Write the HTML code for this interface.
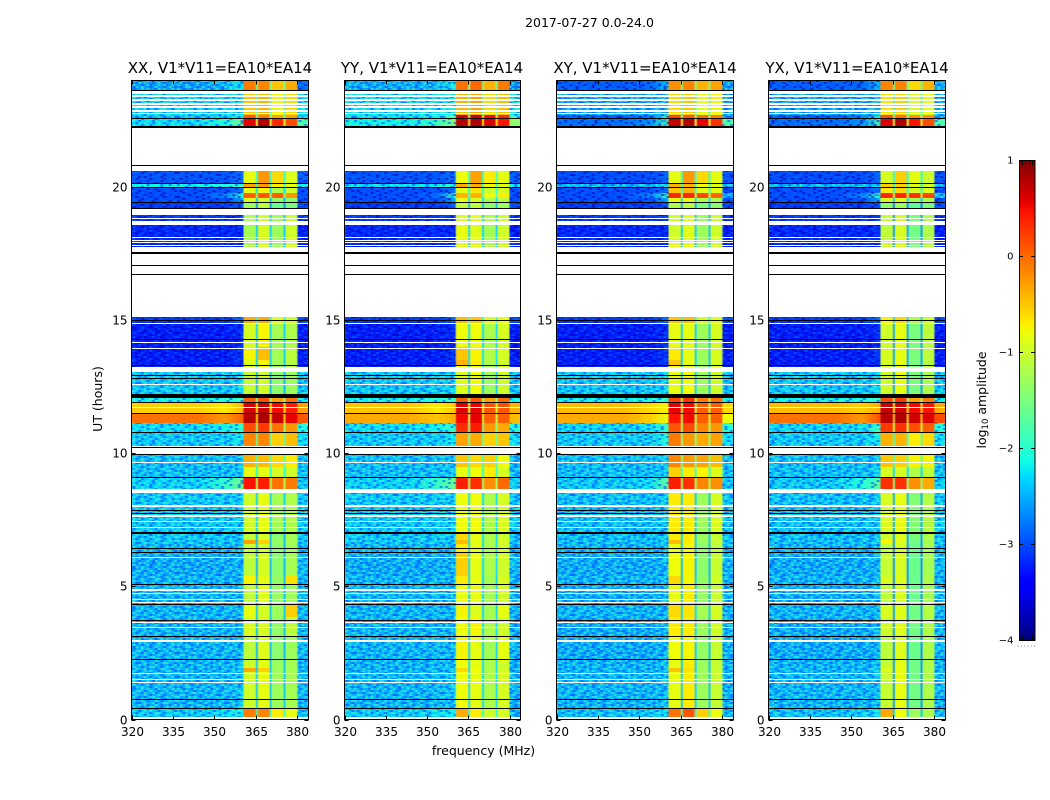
<!DOCTYPE html>
<html>
<head>
<meta charset="utf-8">
<title>2017-07-27 dynamic spectra</title>
<style>
html,body{margin:0;padding:0;background:#fff;}
svg{display:block;}
text{font-family:"DejaVu Sans","Liberation Sans",sans-serif;fill:#000;}
</style>
</head>
<body>
<svg id="chart" xmlns="http://www.w3.org/2000/svg" width="1050" height="800" viewBox="0 0 1050 800">
  <defs id="defs">
    <filter id="soften" x="0" y="0" width="100%" height="100%" color-interpolation-filters="sRGB"><feGaussianBlur stdDeviation="0.4 0.3"/></filter>
  </defs>
  <text x="589.5" y="27" text-anchor="middle" font-size="12.5">2017-07-27 0.0-24.0</text>
  <text x="220" y="73" text-anchor="middle" font-size="15">XX, V1*V11=EA10*EA14</text>
  <text x="432" y="73" text-anchor="middle" font-size="15">YY, V1*V11=EA10*EA14</text>
  <text x="645" y="73" text-anchor="middle" font-size="15">XY, V1*V11=EA10*EA14</text>
  <text x="857" y="73" text-anchor="middle" font-size="15">YX, V1*V11=EA10*EA14</text>
  <text x="483.5" y="755" text-anchor="middle" font-size="12.5">frequency (MHz)</text>
  <text transform="translate(102,399) rotate(-90)" text-anchor="middle" font-size="12.5">UT (hours)</text>
  <text transform="translate(986,400) rotate(-90)" text-anchor="middle" font-size="12.5">log<tspan font-size="8.5" dy="2">10</tspan><tspan dy="-2"> amplitude</tspan></text>
</svg>
<script>
// ---- axis data ----
const xTicks = [320, 335, 350, 365, 380];
const yTicks = [0, 5, 10, 15, 20];
const colorbarTicks = [1, 0, -1, -2, -3, -4];
const colorbarLabels = ['1', '0', '\u22121', '\u22122', '\u22123', '\u22124'];
const panelNames = ['xx', 'yy', 'xy', 'yx'];

// frequency segment edges (MHz)
const freqEdges = [320, 360.5, 365, 365.7, 370, 370.7, 375, 375.7, 380, 384];
// time band edges (hours UT)
const timeEdges = [0, .45, 1.8, 1.95, 2.2, 3.1, 3.85, 4.3, 5.07, 5.4, 6.27, 6.6, 6.75, 7, 8.5, 8.67, 9.1, 9.5, 9.95, 10.2, 10.8, 11.13, 11.5, 11.9, 12.2, 13.05, 13.33, 13.5, 14, 14.9, 15.15, 17.9, 18.56, 18.95, 19.19, 19.44, 19.57, 19.77, 20, 20.14, 20.6, 22.21, 22.6, 22.72, 23.6, 24];

// log10 amplitude per time band: [320-345, 345-355, 355-360, band1, band2, band3, band4, 380-384]
const xxLevels = [
[-2.4,-2.3,-2.2,-.1,-.15,-.7,-.85,-2.5],[-2.5,-2.5,-2.4,-1,-.85,-1.3,-1.25,-2.5],[-2.5,-2.5,-2.4,-.35,-.55,-1.3,-1.25,-2.5],[-2.5,-2.5,-2.4,-1,-.85,-1.3,-1.25,-2.5],
[-2.5,-2.5,-2.5,-1.1,-.9,-1.4,-1.3,-2.5],[-2.5,-2.5,-2.5,-.95,-.95,-1.35,-1.1,-2.5],[-2.5,-2.5,-2.5,-.85,-.95,-1.3,-.55,-2.5],[-2.5,-2.5,-2.5,-1.1,-.9,-1.35,-1.3,-2.5],
[-2.5,-2.5,-2.5,-.75,-.85,-1.35,-.65,-2.5],[-2.55,-2.55,-2.5,-1.1,-.95,-1.4,-1.25,-2.5],[-2.5,-2.5,-2.5,-1.05,-1,-1.4,-1.3,-2.5],[-2.4,-2.4,-2.4,-.3,-.55,-1.35,-1.25,-2.4],
[-2.4,-2.4,-2.4,-1.1,-.95,-1.4,-1.25,-2.4],[-2.4,-2.4,-2.35,-1,-.85,-1.25,-1.2,-2.4],[-2.4,-2.4,-2.4,-1,-.85,-1.25,-1.2,-2.4],[-2.35,-2,-1.5,.45,.4,-.05,-.1,-2.4],
[-2.45,-2.45,-2.4,-.85,-.85,-.95,-1,-2.45],[-2.45,-2.45,-2.4,-.4,-.45,-.6,-.7,-2.45],[-2.45,-2.45,-2.4,-.9,-.9,-1,-1,-2.45],[-2.4,-2.4,-2.2,-.15,-.15,-.55,-.45,-2.3],
[-2.3,-2.2,-2,.15,.25,-.05,-.25,-2.1],[-.05,-.25,.05,.75,.8,.7,.55,.1],[-.55,-.7,-.4,.65,.7,.5,.4,-.3],[-2.2,-2.1,-1.9,.05,.15,-.3,-.05,-2.2],
[-2.4,-2.4,-2.3,-1.05,-1,-1.4,-1.3,-2.4],[-3.2,-3.2,-3.1,-1,-.9,-1.3,-1.2,-3.2],[-3.25,-3.25,-3.1,-.9,-.75,-1.3,-1.15,-3.25],[-3.25,-3.25,-3.1,-.75,-.45,-1.25,-1.1,-3.25],
[-3.25,-3.25,-3.15,-.95,-.75,-1.25,-1.2,-3.25],[-3.1,-3.1,-2.8,-.35,-.35,-.9,-1,-3],[-3.2,-3.2,-3.2,-1.2,-1,-1.3,-1,-3.2],[-3.2,-3.2,-3.2,-1.25,-.95,-1.3,-1,-3.25],
[-3.1,-3.1,-3.1,-1.2,-1,-1.25,-1,-3.1],[-3.1,-3.1,-3.1,-1.2,-1,-1.25,-1,-3.1],[-3.1,-3.1,-2.9,-1.3,-1.1,-1.6,-1.5,-3],[-3,-3,-2.5,-.95,-1,-1.35,-1.4,-3],
[-3,-2.7,-2,.05,.1,.05,-.25,-3],[-3,-3,-2.8,-.85,-.75,-1.2,-1,-3],[-2.2,-2.1,-2,-.3,-.25,-.7,-.85,-2.2],[-2.95,-2.95,-2.8,-.85,-.25,-.6,-.9,-2.9],
[-3,-3,-3,-1,-1,-1,-1,-3],[-2.3,-2.1,-1.5,.55,.8,.35,.15,-1.8],[-2.45,-2.4,-2.1,.1,-.1,-.3,-.3,-2.5],[-2.35,-2.35,-2.3,-.5,-.4,-.75,-.6,-2.3],[-2.6,-2.5,-2.2,-.1,-.15,-.5,-.35,-2.8]];

const yyLevels = [
[-2.4,-2.3,-2.2,-.35,-.7,-1,-.95,-2.5],[-2.5,-2.5,-2.4,-.8,-.85,-1.2,-.95,-2.5],[-2.5,-2.5,-2.4,-.6,-.8,-1.2,-1,-2.5],[-2.5,-2.5,-2.4,-.8,-.85,-1.2,-1,-2.5],
[-2.5,-2.5,-2.5,-.75,-.85,-1.25,-.85,-2.5],[-2.5,-2.5,-2.5,-.8,-.75,-1.2,-1,-2.5],[-2.5,-2.5,-2.5,-.75,-.9,-1.25,-.85,-2.5],[-2.5,-2.5,-2.5,-.85,-.85,-1.25,-1,-2.5],
[-2.5,-2.5,-2.5,-.7,-.85,-1.25,-.95,-2.5],[-2.55,-2.55,-2.5,-.55,-.85,-1.2,-1,-2.5],[-2.5,-2.5,-2.5,-.7,-.85,-1.2,-1,-2.5],[-2.4,-2.4,-2.4,-.45,-.85,-1.2,-.95,-2.4],
[-2.4,-2.4,-2.4,-.6,-.85,-1.2,-1,-2.4],[-2.4,-2.4,-2.35,-.8,-.8,-1.2,-.95,-2.4],[-2.4,-2.4,-2.4,-.8,-.8,-1.2,-.95,-2.4],[-2.35,-2,-1.5,.4,.3,-.2,0,-2.4],
[-2.45,-2.45,-2.4,-.85,-.8,-.7,-.95,-2.45],[-2.45,-2.45,-2.4,-.5,-.6,-.55,-.8,-2.45],[-2.45,-2.45,-2.4,-.8,-.8,-.8,-.9,-2.45],[-2.4,-2.4,-2.2,-.3,-.35,-.55,-.5,-2.3],
[-2.3,-2.2,-2,.3,.4,-.25,-.35,-2.1],[-.35,-.5,-.35,.5,.55,.05,.05,-.45],[-.5,-.7,-.5,.6,.55,.1,.1,-.4],[-2.2,-2.1,-1.9,.05,.1,-.3,0,-2.2],
[-2.4,-2.4,-2.3,-.9,-.8,-1.3,-1,-2.4],[-3.2,-3.2,-3.1,-.8,-.9,-1.3,-1,-3.2],[-3.25,-3.25,-3.1,-.4,-.7,-1.2,-1,-3.25],[-3.25,-3.25,-3.1,-.5,-.75,-1.15,-.95,-3.25],
[-3.25,-3.25,-3.15,-.8,-.8,-1.2,-.95,-3.25],[-3.1,-3.1,-2.8,-.45,-.5,-.9,-.85,-3],[-3.2,-3.2,-3.2,-.9,-.9,-1.2,-1,-3.2],[-3.2,-3.2,-3.2,-.85,-.9,-1.25,-1,-3.25],
[-3.1,-3.1,-3.1,-.9,-.85,-1.2,-1,-3.1],[-3.1,-3.1,-3.1,-.9,-.85,-1.2,-1,-3.1],[-3.1,-3.1,-2.9,-1.1,-1.1,-1.4,-1.3,-3],[-3,-3,-2.5,-.85,-.95,-1.2,-1.15,-3],
[-3,-2.8,-1.9,-.4,-.4,-.8,-.7,-3],[-3,-3,-2.8,-.85,-.65,-1,-.95,-3],[-2.3,-2.2,-2,-.35,-.35,-.75,-.9,-2.2],[-2.95,-2.95,-2.8,-.8,-.3,-.7,-.85,-2.9],
[-3,-3,-3,-1,-1,-1,-1,-3],[-2.2,-1.9,-1.3,.75,.8,.6,.45,-1.4],[-2.3,-2.2,-1.6,.65,.7,.5,.35,-2],[-2.3,-2.3,-2.2,-.4,-.3,-.6,-.45,-2.3],[-2.55,-2.5,-2.2,-.05,0,-.4,-.1,-2.75]];

const xyLevels = [
[-2.45,-2.4,-2.3,-.05,.1,-.55,-.8,-2.5],[-2.5,-2.5,-2.45,-.85,-.7,-1.3,-1.05,-2.5],[-2.5,-2.5,-2.45,-.5,-.65,-1.3,-1.05,-2.5],[-2.5,-2.5,-2.45,-.85,-.7,-1.3,-1.05,-2.5],
[-2.55,-2.55,-2.5,-.8,-.75,-1.35,-1.05,-2.5],[-2.55,-2.55,-2.5,-.7,-.7,-1.3,-1,-2.5],[-2.5,-2.5,-2.5,-.6,-.65,-1.25,-.95,-2.5],[-2.55,-2.55,-2.5,-.85,-.7,-1.35,-1.05,-2.5],
[-2.5,-2.5,-2.5,-.6,-.75,-1.35,-1,-2.5],[-2.55,-2.55,-2.5,-.8,-.75,-1.4,-1.05,-2.5],[-2.5,-2.5,-2.5,-.85,-.75,-1.4,-1.1,-2.5],[-2.45,-2.45,-2.4,-.45,-.7,-1.3,-1.05,-2.4],
[-2.45,-2.45,-2.4,-.7,-.7,-1.3,-1.05,-2.4],[-2.45,-2.45,-2.4,-.7,-.7,-1.3,-.95,-2.4],[-2.45,-2.45,-2.4,-.7,-.7,-1.3,-.95,-2.4],[-2.4,-2.3,-1.6,.4,.3,-.15,-.2,-2.4],
[-2.45,-2.45,-2.4,-.55,-.7,-.75,-.9,-2.45],[-2.45,-2.45,-2.4,-.15,-.25,-.3,-.45,-2.45],[-2.45,-2.45,-2.4,-.5,-.6,-.8,-.8,-2.45],[-2.4,-2.4,-2.1,-.1,-.25,-.35,-.3,-2.3],
[-2.35,-2.3,-1.9,.1,.15,-.15,-.25,-2.1],[-.35,-.55,-.85,.45,.5,.05,.05,-.8],[-.45,-.6,-.75,.55,.5,.05,.05,-.6],[-2.2,-2.15,-2,.2,.3,-.1,-.05,-2.2],
[-2.4,-2.4,-2.35,-.85,-.8,-1.3,-1,-2.4],[-3.2,-3.2,-3.1,-.8,-.85,-1.35,-1,-3.2],[-3.25,-3.25,-3.1,-.5,-.85,-1.3,-.95,-3.25],[-3.25,-3.25,-3.1,-.7,-.85,-1.3,-.95,-3.25],
[-3.25,-3.25,-3.15,-.85,-.85,-1.3,-.95,-3.25],[-3.1,-3.1,-2.8,-.5,-.45,-.95,-.9,-3],[-3.2,-3.2,-3.2,-.9,-.9,-1.3,-1,-3.2],[-3.2,-3.2,-3.2,-1,-.9,-1.3,-1,-3.25],
[-3.1,-3.1,-3.1,-1,-.9,-1.3,-1,-3.1],[-3.1,-3.1,-3.1,-1,-.9,-1.3,-1,-3.1],[-3.1,-3.1,-2.95,-1.2,-1.1,-1.5,-1.4,-3],[-3,-3,-2.4,-.85,-.85,-1.2,-1.2,-3],
[-3,-2.7,-1.9,.35,.35,.2,0,-2.6],[-3,-3,-2.8,-.5,-.4,-.85,-.85,-3],[-2.5,-2.5,-2.3,-.4,-.4,-.8,-.85,-2.5],[-3,-3,-2.85,-.85,-.25,-.6,-.85,-2.95],
[-3,-3,-3,-1,-1,-1,-1,-3],[-2.8,-2.6,-1.8,.7,.75,.55,.3,-1.8],[-2.9,-2.7,-1.9,.2,.1,0,-.1,-2.7],[-2.6,-2.6,-2.5,-.6,-.5,-.85,-.75,-2.6],[-2.9,-2.85,-2.4,-.2,-.15,-.4,-.3,-2.6]];

const yxLevels = [
[-2.45,-2.4,-2.3,-.35,-.8,-1.3,-1.2,-2.5],[-2.5,-2.5,-2.45,-1.05,-.85,-1.55,-1.2,-2.5],[-2.5,-2.5,-2.45,-.9,-.85,-1.55,-1.2,-2.5],[-2.5,-2.5,-2.45,-1.05,-.85,-1.55,-1.2,-2.5],
[-2.55,-2.55,-2.5,-1.1,-.9,-1.6,-1.2,-2.5],[-2.55,-2.55,-2.5,-1,-.9,-1.55,-1.2,-2.5],[-2.5,-2.5,-2.5,-.95,-.9,-1.55,-1.15,-2.5],[-2.55,-2.55,-2.5,-1.1,-.95,-1.6,-1.25,-2.5],
[-2.5,-2.5,-2.5,-.95,-.9,-1.6,-1.2,-2.5],[-2.55,-2.55,-2.5,-1.05,-.95,-1.6,-1.25,-2.5],[-2.5,-2.5,-2.5,-1.1,-.95,-1.6,-1.25,-2.5],[-2.45,-2.45,-2.4,-.75,-.9,-1.55,-1.25,-2.4],
[-2.45,-2.45,-2.4,-1,-.9,-1.5,-1.2,-2.4],[-2.45,-2.45,-2.4,-.95,-.85,-1.45,-1.15,-2.4],[-2.45,-2.45,-2.4,-.95,-.85,-1.45,-1.15,-2.4],[-2.4,-2.1,-1.7,.3,.3,-.2,-.35,-2.4],
[-2.45,-2.45,-2.4,-.95,-.95,-1.2,-1.1,-2.45],[-2.45,-2.45,-2.4,-.5,-.55,-.75,-.75,-2.45],[-2.45,-2.45,-2.4,-.85,-.9,-1.2,-1.05,-2.45],[-2.4,-2.4,-2.2,-.4,-.4,-.7,-.6,-2.3],
[-2.35,-2.3,-1.9,.25,.3,.15,.05,-2.1],[-.05,-.25,.15,.75,.8,.65,.6,.15],[-.45,-.55,-.35,.7,.65,.5,.45,-.35],[-2.2,-2.15,-2,.15,.25,-.3,-.1,-2.2],
[-2.4,-2.4,-2.35,-1,-.85,-1.5,-1.2,-2.4],[-3.2,-3.2,-3.1,-1,-.85,-1.45,-1.1,-3.2],[-3.25,-3.25,-3.1,-.95,-.85,-1.5,-1.15,-3.25],[-3.25,-3.25,-3.1,-.95,-.85,-1.5,-1.1,-3.25],
[-3.25,-3.25,-3.15,-1,-.85,-1.5,-1.1,-3.25],[-3.1,-3.1,-2.8,-.75,-.6,-1.2,-1,-3],[-3.2,-3.2,-3.2,-1.05,-.95,-1.5,-1.15,-3.2],[-3.2,-3.2,-3.2,-1.1,-.95,-1.55,-1.2,-3.25],
[-3.1,-3.1,-3.1,-1.05,-.95,-1.5,-1.15,-3.1],[-3.1,-3.1,-3.1,-1.05,-.95,-1.5,-1.15,-3.1],[-3.1,-3.1,-2.95,-1.4,-1.3,-1.7,-1.5,-3],[-3,-3,-2.4,-.95,-.9,-1.3,-1.2,-3],
[-3,-2.7,-1.9,.35,.35,.3,.2,-2.5],[-3,-3,-2.8,-.7,-.6,-.95,-.9,-3],[-2.5,-2.5,-2.3,-.55,-.55,-.9,-.95,-2.5],[-3,-3,-2.85,-.95,-.55,-.85,-1,-2.95],
[-3,-3,-3,-1,-1,-1,-1,-3],[-2.8,-2.6,-1.8,.6,.8,.45,.15,-1.8],[-2.9,-2.7,-1.9,.15,-.05,-.2,-.2,-2.7],[-2.6,-2.6,-2.5,-.65,-.55,-.95,-.85,-2.6],[-2.9,-2.85,-2.4,-.15,-.15,-.6,-.4,-2.6]];

// blanked (no data) intervals in hours
const blankIntervals = [[23.475,23.6],[23.35,23.44],[23.22,23.3],[23.1,23.17],[22.95,23.03],[22.84,22.91],[22.72,22.77],[20.81,22.21],[20.59,20.775],[18.95,19.19],[18.78,18.82],[18.56,18.71],[18.09,18.11],[17.98,18.02],[17.89,17.93],[17.79,17.83],[17.55,17.74],[17.08,17.49],[16.74,17.05],[15.15,16.71],[14.85,14.89],[14.14,14.175],[13.91,13.95],[13.05,13.25],[12.56,12.6],[11.7,11.73],[10.24,10.275],[9.98,10.2],[9.61,9.66],[8.51,8.67],[8,8.06],[7.6,7.67],[7.4,7.44],[7.2,7.24],[6.05,6.09],[4.81,4.89],[4.71,4.74],[4.47,4.52],[4.39,4.425],[3.63,3.66],[3.45,3.48],[2.96,2.99],[2.9,2.94],[1.71,1.75],[1.48,1.52],[1.38,1.41],[.4,.424],[0,.11]];
// flagged (black) intervals in hours
const flagIntervals = [[23.6,23.625],[22.575,22.61],[22.21,22.29],[20.775,20.81],[20.11,20.14],[19.99,20.01],[19.41,19.44],[19.19,19.23],[17.49,17.55],[17.05,17.08],[16.71,16.74],[14.99,15.02],[14.265,14.29],[13.29,13.33],[12.91,12.94],[12.78,12.81],[12.075,12.225],[11.89,11.91],[11.475,11.5],[10.77,10.79],[10.2,10.24],[9.95,9.98],[9.075,9.1],[7.84,7.86],[7.75,7.77],[6.99,7.05],[6.41,6.44],[6.27,6.3],[5.07,5.1],[4.305,4.33],[3.71,3.74],[3.11,3.14],[2.21,2.26],[.75,.776],[.424,.45]];

// speckle texture: . none, b darker, c lighter, g greener
const speckleRows = [
"b.c..g.b.cc.b..gc.b..c.bg..c.b.c",
".cb.b..c..b.g.c..bc.g..b.c.b..g.",
"g..c.b.gb..c..b.c..b.cb..g.cb.c.",
".b.gc..b.c.b.g..bg.c..b.c..b.g.b",
"c.b..bc.g..cb.c.b..c.g..bc.g..c.",
".g.c..b..bg..c.b.gc.b.c..b..cb.g",
"b..b.gc.c..b.g..c..bg..cb.g..c.b",
".cg..b..b.c.c.bb.g..c.b..c.b..g.",
"c..bc.g.b..g..c.c.b.b.gc..b.g..c",
".b..g.c..cb.b..g.b.c..b.gc.b.cb.",
"g.cb..b.g..c.gb.c..g.b..c.b..c.g",
"..b.cg..b.c.b..c.bb.c..gb..cg..b",
"bc..b..cg.b..c.g..c.gb..c.b..b.c",
".g.b.cb..c.gb..bc..b..cg..b.c.g.",
"c..g..b.c.b..c.b.g..cb..b.gc..b.",
".b.c.g..bg.c.b..c.b.g.c..b..cg.b",
"g.b..cb.c..b.gc..b.c..b.gc.b...c",
".c.gb..c.b.c...bg.c.bg..c.b.cg..",
"b..c.g.b.g.bc.c..b..c.b..g.b..cb",
".gb..c..cb..g.b.c.gb..c.b.c.g..."];

// ---- layout and axis functions ----
const svgNS = 'http://www.w3.org/2000/svg';
const root = document.getElementById('chart');
const defs = document.getElementById('defs');
const panelLefts = [131.5, 344.5, 556.5, 768.5];
const panelWidths = [177, 176, 177, 177];
const plotTop = 80.5, plotBottom = 719.5;
const allLevels = [xxLevels, yyLevels, xyLevels, yxLevels];
// segment index -> band column in the level rows (null = thin gap channel)
const levelColumn = [null, 3, null, 4, null, 5, null, 6, 7];

function xScale(freq, p) { return panelLefts[p] + (freq - 320) * panelWidths[p] / 64; }
function yScale(hour) { return plotBottom - hour * (plotBottom - plotTop) / 24; }
function cbarY(v) { return 640 - (v + 4) * 96; }

function interp(stops, t) {
  for (let i = 1; i < stops.length; i++) {
    if (t <= stops[i][0]) {
      const a = stops[i - 1], b = stops[i];
      return a[1] + (b[1] - a[1]) * (t - a[0]) / (b[0] - a[0]);
    }
  }
  return stops[stops.length - 1][1];
}
const jetR = [[0,0],[.35,0],[.66,1],[.89,1],[1,.5]];
const jetG = [[0,0],[.125,0],[.375,1],[.64,1],[.91,0],[1,0]];
const jetB = [[0,.5],[.11,1],[.34,1],[.65,0],[1,0]];
function colorOf(level) {
  const t = Math.max(0, Math.min(1, (level + 4) / 5));
  return 'rgb(' + Math.round(interp(jetR, t) * 255) + ',' + Math.round(interp(jetG, t) * 255) + ',' + Math.round(interp(jetB, t) * 255) + ')';
}
function make(tag, attrs, parent) {
  const el = document.createElementNS(svgNS, tag);
  for (const k in attrs) el.setAttribute(k, attrs[k]);
  parent.appendChild(el);
  return el;
}

// speckle patterns: one for the cyan background, a gentler one for the deep-blue background
const cellW = 177 / 64, cellH = 2;
const speckleSets = {
  speckle: {b: 'rgba(0,70,255,0.62)', c: 'rgba(60,255,220,0.6)', g: 'rgba(130,255,130,0.42)'},
  speckleDeep: {b: 'rgba(0,0,170,0.6)', c: 'rgba(0,110,255,0.55)', g: 'rgba(0,60,255,0.4)'}
};
Object.keys(speckleSets).forEach(function (id) {
  const fills = speckleSets[id];
  const pattern = make('pattern', {id: id, patternUnits: 'userSpaceOnUse', width: cellW * speckleRows[0].length, height: cellH * speckleRows.length}, defs);
  speckleRows.forEach(function (row, r) {
    row.split('').forEach(function (ch, c) {
      if (ch === '.') return;
      make('rect', {x: c * cellW, y: r * cellH, width: cellW, height: cellH, fill: fills[ch]}, pattern);
    });
  });
});
function noiseFor(level) { return level < -2.75 ? 'url(#speckleDeep)' : 'url(#speckle)'; }

// snap an hour interval to whole pixels so thin lines stay solid
function snapBand(h0, h1) {
  const top = Math.round(yScale(h1));
  const height = Math.max(1, Math.round(yScale(h0) - yScale(h1)));
  return {y: top, height: height};
}

// panels
panelNames.forEach(function (name, p) {
  const left = panelLefts[p], levels = allLevels[p];
  const right = xScale(384, p), top = plotTop;
  const g = make('g', {}, root);
  
  

  const heat = make('g', {filter: 'url(#soften)'}, g);
  
  

  for (let t = 0; t < timeEdges.length - 1; t++) {
    const y1 = Math.round(yScale(timeEdges[t + 1])), y0 = Math.round(yScale(timeEdges[t]));
    const row = levels[t];
    const minBand = Math.min(row[3], row[4], row[5], row[6]);
    for (let s = 0; s < freqEdges.length - 1; s++) {
      const col = levelColumn[s];
      const x0 = xScale(freqEdges[s], p), x1 = xScale(freqEdges[s + 1], p);
      let fill;
      if (s === 0) {
        const gradId = 'bg-' + name + '-' + t;
        const grad = make('linearGradient', {id: gradId, gradientUnits: 'userSpaceOnUse', x1: x0, x2: x1, y1: 0, y2: 0}, defs);
        make('stop', {offset: '0', 'stop-color': colorOf(row[0])}, grad);
        make('stop', {offset: '0.6', 'stop-color': colorOf(row[0])}, grad);
        make('stop', {offset: '0.84', 'stop-color': colorOf(row[1])}, grad);
        make('stop', {offset: '1', 'stop-color': colorOf(row[2])}, grad);
        fill = 'url(#' + gradId + ')';
      } else {
        fill = colorOf(col === null ? minBand - 1.1 : row[col]);
      }
      const cell = make('rect', {x: x0, y: y1, width: x1 - x0, height: y0 - y1, fill: fill}, heat);
      
      
      const noisy = s === 0 ? row[0] < -1.6 : (col === 7 && row[7] < -1.6);
      if (noisy) {
        const sp = make('rect', {x: x0, y: y1, width: x1 - x0, height: y0 - y1, fill: noiseFor(s === 0 ? row[0] : row[7])}, heat);
        
        
      }
    }
  }
  const overlay = make('g', {'shape-rendering': 'crispEdges'}, g);
  
  
  blankIntervals.forEach(function (iv) {
    const b = snapBand(iv[0], iv[1]);
    const r = make('rect', {x: left, y: b.y, width: right - left, height: b.height, fill: '#fff'}, overlay);
    
    
  });
  flagIntervals.forEach(function (iv) {
    const b = snapBand(iv[0], iv[1]);
    const r = make('rect', {x: left, y: b.y, width: right - left, height: b.height, fill: '#000'}, overlay);
    
    
  });

  const frame = make('rect', {x: left, y: top, width: right - left, height: plotBottom - top, fill: 'none', stroke: '#000', 'stroke-width': 1}, g);
  
  

  xTicks.forEach(function (v) {
    const x = Math.round(xScale(v, p)) + 0.5;
    const t1 = make('line', {x1: x, x2: x, y1: plotBottom, y2: plotBottom - 4, stroke: '#000'}, g);
    
    
    const t2 = make('line', {x1: x, x2: x, y1: top, y2: top + 4, stroke: '#000'}, g);
    
    
    const lab = make('text', {x: x, y: 736, 'text-anchor': 'middle', 'font-size': 12}, g);
    
    
    lab.textContent = String(v);
  });
  yTicks.forEach(function (v) {
    const y = Math.round(yScale(v)) + 0.5;
    const t1 = make('line', {x1: left, x2: left + 4, y1: y, y2: y, stroke: '#000'}, g);
    
    
    const t2 = make('line', {x1: right, x2: right - 4, y1: y, y2: y, stroke: '#000'}, g);
    
    
    const lab = make('text', {x: left - 4, y: y + 4, 'text-anchor': 'end', 'font-size': 12}, g);
    
    
    lab.textContent = String(v);
  });
});

// colorbar
const cbar = make('g', {}, root);


const cbarGrad = make('g', {'shape-rendering': 'crispEdges'}, cbar);


for (let i = 0; i < 240; i++) {
  const v = -4 + i * 5 / 240;
  const r = make('rect', {x: 1019, y: cbarY(v + 5 / 240), width: 16, height: 2.2, fill: colorOf(v + 2.5 / 240)}, cbarGrad);
  
  
}
const cbFrame = make('rect', {x: 1019.5, y: 160.5, width: 15.5, height: 480, fill: 'none', stroke: '#000'}, cbar);


colorbarTicks.forEach(function (v, i) {
  const y = cbarY(v) + 0.5;
  const a = make('line', {x1: 1019, x2: 1023, y1: y, y2: y, stroke: '#000'}, cbar);
  
  
  const b = make('line', {x1: 1035, x2: 1031, y1: y, y2: y, stroke: '#000'}, cbar);
  
  
  const lab = make('text', {x: 1013.5, y: y + 3, 'text-anchor': 'end', 'font-size': 10}, cbar);
  
  
  lab.textContent = colorbarLabels[i];
});
for (let i = 1; i < 5; i++) {
  const x = Math.round(1019 + i * 3.2) + 0.5;
  const a = make('line', {x1: x, x2: x, y1: 160, y2: 165, stroke: '#000'}, cbar);
  
  
  const b = make('line', {x1: x, x2: x, y1: 640, y2: 635, stroke: '#000'}, cbar);
  
  
}
for (let i = 0; i < 6; i++) {
  const d = make('rect', {x: 1017.5 + i * 3.3, y: 645.5, width: 1, height: 1, fill: '#888'}, cbar);
  
  
}
</script>
</body>
</html>
